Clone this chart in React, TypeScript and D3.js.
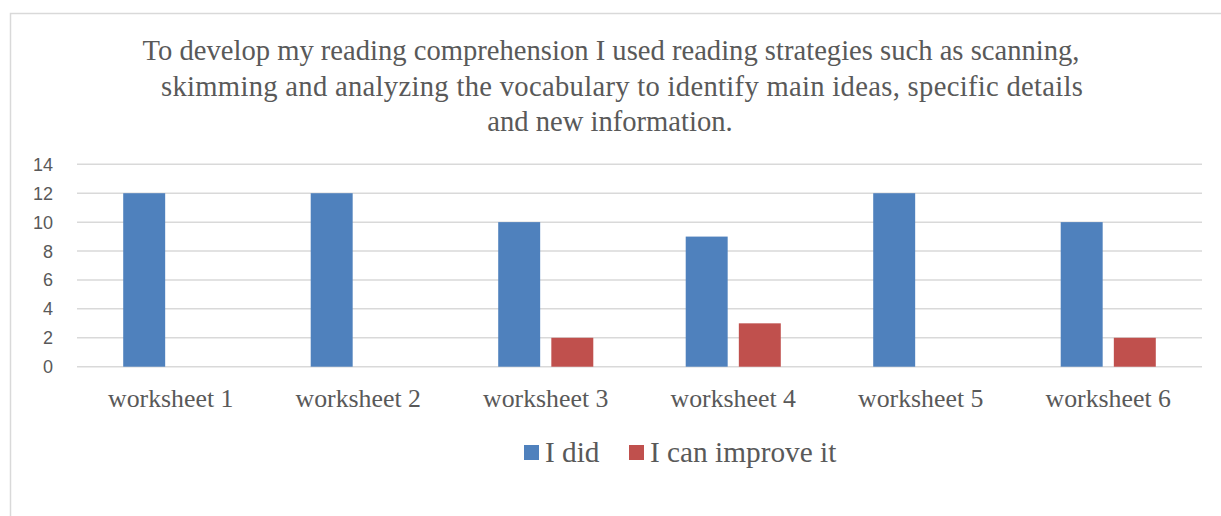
import React from 'react';
import * as d3 from 'd3';

const categories = ['worksheet 1', 'worksheet 2', 'worksheet 3', 'worksheet 4', 'worksheet 5', 'worksheet 6'];
const series = ['I did', 'I can improve it'];
const didValues = [12, 12, 10, 9, 12, 10];
const improveValues = [0, 0, 2, 3, 0, 2];
const yTicks = [0, 2, 4, 6, 8, 10, 12, 14];
const titleLines = [
  'To develop my reading comprehension I used reading strategies such as scanning,',
  'skimming and analyzing the vocabulary to identify main ideas, specific details',
  'and new information.'
];
const colors = ['#4f81bd', '#c0504d'];

const App = () => {
  const width = 1221;
  const height = 516;
  const margin = { top: 164.3, bottom: 149.3, left: 77, right: 19 };
  const textColor = '#595959';
  const serif = '"Liberation Serif", "Times New Roman", serif';
  const sans = '"Liberation Sans", Arial, sans-serif';

  const x0 = d3.scaleBand().domain(categories).range([margin.left, width - margin.right]);
  const x1 = d3.scaleBand().domain(series).range([0, x0.bandwidth()]).paddingInner(0.21).paddingOuter(0.87);
  const y = d3.scaleLinear().domain([0, 14]).range([height - margin.bottom, margin.top]);

  const rows = categories.map((c, i) => ({ c, vals: [didValues[i], improveValues[i]] }));
  const titleX = [611, 622, 610];
  const titleW = [937, 922, undefined];

  return (
    <svg width={width} height={height} style={{ position: 'absolute', left: 0, top: 0, background: '#fff' }}>
      {/* chart frame */}
      <path d={`M10.5,${height} V13.5 H${width}`} fill='none' stroke='#d9d9d9' strokeWidth={1.5} />

      {titleLines.map((t, i) => (
        <text key={`title-${i}`} x={titleX[i]} y={60 + i * 35.5} textAnchor='middle' fontFamily={serif} fontSize={28.6}
          fill={textColor} textLength={titleW[i]} lengthAdjust='spacing'>{t}</text>
      ))}

      {yTicks.map(t => (
        <g key={`tick-${t}`}>
          <line x1={margin.left} x2={width - margin.right} y1={y(t)} y2={y(t)} stroke='#d9d9d9' strokeWidth={1.5} />
          <text x={53} y={y(t)} dy='0.36em' textAnchor='end' fontFamily={sans} fontSize={18} fill={textColor}>{t}</text>
        </g>
      ))}

      {rows.map(r => (
        <g key={`grp-${r.c}`} transform={`translate(${x0(r.c)},0)`}>
          {r.vals.map((v, j) => v > 0 && (
            <rect key={`bar-${j}`} x={x1(series[j])} y={y(v)} width={x1.bandwidth()} height={y(0) - y(v)} fill={colors[j]} />
          ))}
          <text x={x0.bandwidth() / 2} y={407} textAnchor='middle' fontFamily={serif} fontSize={25.8} fill={textColor}>{r.c}</text>
        </g>
      ))}

      {/* legend */}
      {series.map((s, i) => {
        const lx = [524, 629][i];
        return (
          <g key={`leg-${i}`} transform={`translate(${lx},445)`}>
            <rect width={15} height={15} fill={colors[i]} />
            <text x={21} y={17} fontFamily={serif} fontSize={29.3} fill={textColor}>{s}</text>
          </g>
        );
      })}
    </svg>
  );
};

export default App;
